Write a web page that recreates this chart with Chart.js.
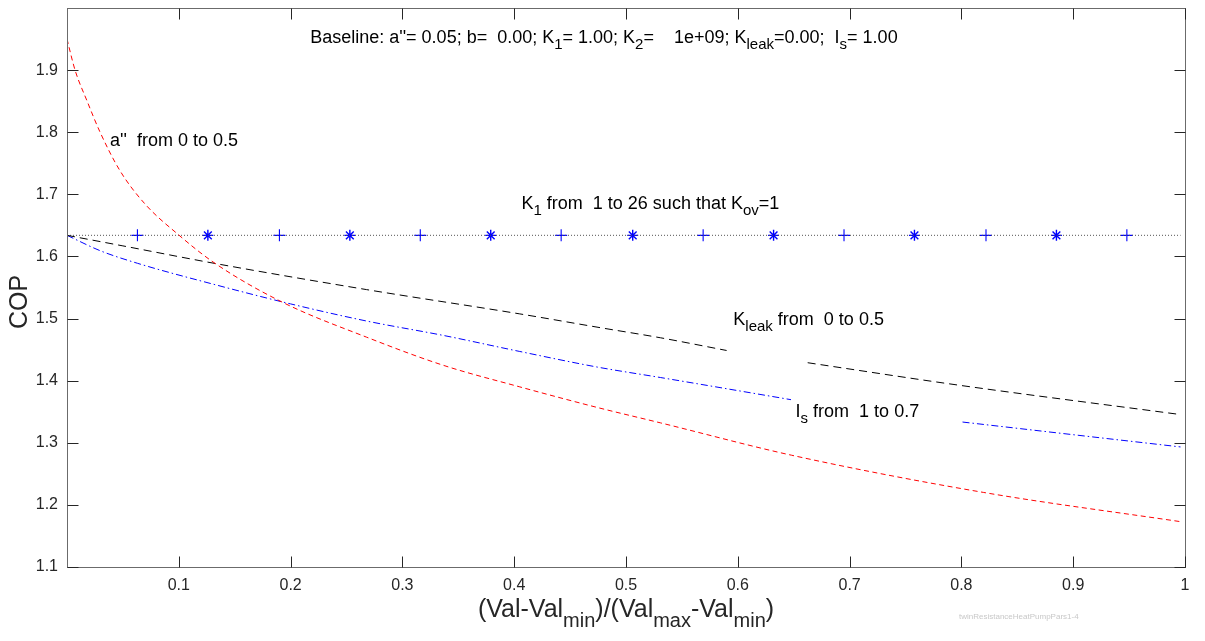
<!DOCTYPE html>
<html>
<head>
<meta charset="utf-8">
<script src="https://cdn.jsdelivr.net/npm/chart.js@4.4.1/dist/chart.umd.min.js"></script>
<style>
  html, body { margin: 0; padding: 0; background: #ffffff; }
  #wrap { width: 1205px; height: 641px; position: relative; }
</style>
</head>
<body>
<div id="wrap"><canvas id="cop" width="1205" height="641"></canvas></div>
<script>
// Normalised sweep position (Val-Valmin)/(Valmax-Valmin) and the resulting COP.
const xTicks = [0.1, 0.2, 0.3, 0.4, 0.5, 0.6, 0.7, 0.8, 0.9, 1];
const yTicks = [1.1, 1.2, 1.3, 1.4, 1.5, 1.6, 1.7, 1.8, 1.9];

// a'' swept from 0 to 0.5
const aSweepX   = [0, 0.0072, 0.018, 0.0296, 0.0474, 0.07, 0.099, 0.1315, 0.193, 0.268, 0.337, 0.405, 0.474, 0.531, 0.648, 0.82, 0.996];
const aSweepCOP = [1.950, 1.900, 1.850, 1.800, 1.738, 1.684, 1.636, 1.590, 1.526, 1.470, 1.4245, 1.390, 1.357, 1.332, 1.280, 1.220, 1.173];

// Kleak swept from 0 to 0.5 (null = break left open for the label)
const leakSweepX   = [0, 0.05, 0.1315, 0.268, 0.405, 0.478, 0.531, 0.590, 0.626, 0.6625, 0.799, 0.9945];
const leakSweepCOP = [1.634, 1.617, 1.589, 1.5466, 1.5075, 1.485, 1.469, 1.4486, null, 1.4289, 1.3924, 1.3458];

// Is swept from 1 to 0.7 (null = break left open for the label)
const isSweepX   = [0, 0.03, 0.063, 0.1315, 0.2, 0.268, 0.337, 0.405, 0.474, 0.531, 0.6476, 0.72, 0.801, 0.9, 0.996];
const isSweepCOP = [1.634, 1.609, 1.589, 1.555, 1.5236, 1.496, 1.4727, 1.447, 1.422, 1.405, 1.3694, null, 1.3334, 1.313, 1.2933];

// K1 swept from 1 to 26 with Kov = 1: COP stays at the baseline value
const k1LineX   = [0, 0.996];
const k1LineCOP = [1.634, 1.634];
const k1MarkX   = [0.063, 0.126, 0.190, 0.253, 0.316, 0.379, 0.442, 0.506, 0.569, 0.632, 0.695, 0.758, 0.822, 0.885, 0.948];
const k1MarkCOP = [1.634, 1.634, 1.634, 1.634, 1.634, 1.634, 1.634, 1.634, 1.634, 1.634, 1.634, 1.634, 1.634, 1.634, 1.634];

const FONT = '"Liberation Sans", Arial, Helvetica, sans-serif';
const TXT = '#262626';

const pts = (xs, ys) => xs.map((x, i) => ({ x: x, y: ys[i] }));

// Text with TeX-like subscripts: parts are strings (normal) or [string] (subscript)
function richParts(parts) {
  return parts.map(p => Array.isArray(p) ? { t: p[0], sub: true } : { t: p, sub: false });
}
function richWidth(ctx, parts, size, subSize) {
  let w = 0;
  for (const p of richParts(parts)) {
    ctx.font = (p.sub ? subSize : size) + 'px ' + FONT;
    w += ctx.measureText(p.t).width;
  }
  return w;
}
function drawRich(ctx, x, y, parts, size, opts) {
  const o = Object.assign({ subSize: Math.round(size * 0.82), subDrop: size * 0.4, align: 'left' }, opts || {});
  let cx = x;
  if (o.align === 'center') cx = x - richWidth(ctx, parts, size, o.subSize) / 2;
  ctx.textBaseline = 'middle';
  ctx.textAlign = 'left';
  for (const p of richParts(parts)) {
    ctx.font = (p.sub ? o.subSize : size) + 'px ' + FONT;
    ctx.fillText(p.t, cx, p.sub ? y + o.subDrop : y);
    cx += ctx.measureText(p.t).width;
  }
}

// Annotations, placed in data coordinates
const notes = [
  { x: 0.2175, y: 1.9517, size: 18, parts: ["Baseline: a''= 0.05; b=  0.00; K", ["1"], "= 1.00; K", ["2"], "=    1e+09; K", ["leak"], "=0.00;  I", ["s"], "= 1.00"] },
  { x: 0.0385, y: 1.786,  size: 18, parts: ["a''  from 0 to 0.5"] },
  { x: 0.4065, y: 1.6844, size: 18, parts: ["K", ["1"], " from  1 to 26 such that K", ["ov"], "=1"] },
  { x: 0.596,  y: 1.4977, size: 18, parts: ["K", ["leak"], " from  0 to 0.5"] },
  { x: 0.6517, y: 1.3496, size: 18, parts: ["I", ["s"], " from  1 to 0.7"] }
];

const framePlugin = {
  id: 'frame',
  afterDatasetsDraw(chart) {
    const ctx = chart.ctx;
    const a = chart.chartArea;
    const xs = chart.scales.x, ys = chart.scales.y;
    const L = Math.round(a.left) + 0.5, R = Math.round(a.right) + 0.5;
    const T = Math.round(a.top) + 0.5, B = Math.round(a.bottom) + 0.5;
    const tl = 11;
    ctx.save();
    // box
    ctx.strokeStyle = '#6b6b6b';
    ctx.lineWidth = 1;
    ctx.strokeRect(L, T, R - L, B - T);
    // inward ticks on all four sides
    ctx.strokeStyle = '#262626';
    ctx.beginPath();
    for (const v of xTicks) {
      const px = Math.round(xs.getPixelForValue(v)) + 0.5;
      ctx.moveTo(px, B); ctx.lineTo(px, B - tl);
      ctx.moveTo(px, T); ctx.lineTo(px, T + tl);
    }
    for (const v of yTicks) {
      const py = Math.round(ys.getPixelForValue(v)) + 0.5;
      ctx.moveTo(L, py); ctx.lineTo(L + tl, py);
      ctx.moveTo(R, py); ctx.lineTo(R - tl, py);
    }
    ctx.stroke();

    // annotations
    ctx.fillStyle = '#000000';
    for (const n of notes) {
      drawRich(ctx, xs.getPixelForValue(n.x), ys.getPixelForValue(n.y), n.parts, n.size);
    }

    // axis titles
    ctx.fillStyle = TXT;
    ctx.save();
    ctx.translate(20, 302);
    ctx.rotate(-Math.PI / 2);
    ctx.font = '25px ' + FONT;
    ctx.textAlign = 'center';
    ctx.textBaseline = 'middle';
    ctx.fillText('COP', 0, 0);
    ctx.restore();
    drawRich(ctx, (a.left + a.right) / 2, 610,
      ['(Val-Val', ['min'], ')/(Val', ['max'], '-Val', ['min'], ')'], 25,
      { align: 'center', subSize: 20, subDrop: 11 });

    // file tag
    ctx.fillStyle = '#c8c8c8';
    ctx.font = '8px ' + FONT;
    ctx.textAlign = 'left';
    ctx.textBaseline = 'middle';
    ctx.fillText('twinResistanceHeatPumpPars1-4', 959, 617);
    ctx.restore();
  }
};

const noPad = s => { s.paddingTop = 0; s.paddingBottom = 0; s.paddingLeft = 0; s.paddingRight = 0; };

new Chart(document.getElementById('cop').getContext('2d'), {
  type: 'line',
  data: {
    datasets: [
      {
        label: "a''",
        data: pts(aSweepX, aSweepCOP),
        borderColor: '#ff0000', borderWidth: 1, borderDash: [5, 3.5],
        pointRadius: 0, cubicInterpolationMode: 'monotone', spanGaps: false
      },
      {
        label: 'Kleak',
        data: pts(leakSweepX, leakSweepCOP),
        borderColor: '#000000', borderWidth: 1, borderDash: [8, 5],
        pointRadius: 0, cubicInterpolationMode: 'monotone', spanGaps: false
      },
      {
        label: 'Is',
        data: pts(isSweepX, isSweepCOP),
        borderColor: '#0000ff', borderWidth: 1, borderDash: [7, 3, 1.5, 3],
        pointRadius: 0, cubicInterpolationMode: 'monotone', spanGaps: false
      },
      {
        label: 'K1',
        data: pts(k1LineX, k1LineCOP),
        borderColor: '#555555', borderWidth: 1, borderDash: [1, 2],
        pointRadius: 0
      },
      {
        label: 'K1 markers',
        data: pts(k1MarkX, k1MarkCOP),
        showLine: false,
        pointStyle: k1MarkX.map((_, i) => i % 2 === 0 ? 'cross' : 'star'),
        pointRadius: k1MarkX.map((_, i) => i % 2 === 0 ? 6 : 5.5),
        pointBorderColor: '#0000ff', pointBackgroundColor: '#0000ff',
        pointBorderWidth: k1MarkX.map((_, i) => i % 2 === 0 ? 1.1 : 1.4)
      }
    ]
  },
  options: {
    responsive: false,
    animation: false,
    layout: { padding: { left: 0, right: 20, top: 8, bottom: 0 } },
    plugins: { legend: { display: false }, tooltip: { enabled: false } },
    scales: {
      x: {
        type: 'linear', min: 0, max: 1,
        afterBuildTicks: s => { s.ticks = xTicks.map(v => ({ value: v })); },
        afterFit: s => { s.height = 74; noPad(s); },
        grid: { display: false, drawTicks: false },
        border: { display: false },
        ticks: { font: { family: FONT, size: 16 }, color: TXT, padding: 9, maxRotation: 0, autoSkip: false,
                 callback: v => String(+Number(v).toFixed(2)) }
      },
      y: {
        type: 'linear', min: 1.1, max: 2.0,
        afterBuildTicks: s => { s.ticks = yTicks.map(v => ({ value: v })); },
        afterFit: s => { s.width = 67; noPad(s); },
        grid: { display: false, drawTicks: false },
        border: { display: false },
        ticks: { font: { family: FONT, size: 16 }, color: TXT, padding: 9, autoSkip: false,
                 callback: v => Number(v).toFixed(1) }
      }
    }
  },
  plugins: [framePlugin]
});
</script>
</body>
</html>
